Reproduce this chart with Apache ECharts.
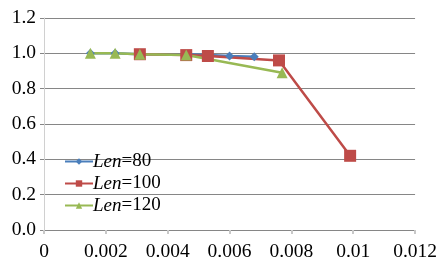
<!DOCTYPE html>
<html>
<head>
<meta charset="utf-8">
<script src="https://cdn.jsdelivr.net/npm/echarts@6/dist/echarts.min.js"></script>
<style>
html,body{margin:0;padding:0;background:#fff;}
#chart{width:440px;height:262px;}
</style>
</head>
<body>
<div id="chart"></div>
<script>
// 数据
const len80X = [0.0015, 0.0023, 0.0031, 0.0046, 0.0053, 0.0060, 0.0068];
const len80Y = [1.0, 1.0, 0.995, 0.995, 0.99, 0.985, 0.98];
const len100X = [0.0031, 0.0046, 0.0053, 0.0076, 0.0099];
const len100Y = [0.995, 0.99, 0.985, 0.96, 0.42];
const len120X = [0.0015, 0.0023, 0.0031, 0.0046, 0.0077];
const len120Y = [1.0, 1.0, 0.995, 0.99, 0.89];
const seriesNames = ['Len=80', 'Len=100', 'Len=120'];

const font = 'Liberation Serif';

function pairs(xs, ys) {
    return xs.map(function (x, i) { return [x, ys[i]]; });
}

const chart = echarts.init(document.getElementById('chart'));
const option = {
    animation: false,
    backgroundColor: '#fff',
    grid: {left: 44, right: 18, top: 18, bottom: 31},
    legend: {
        orient: 'vertical',
        left: 59,
        top: 147,
        itemGap: 3,
        itemWidth: 28,
        itemHeight: 8,
        data: seriesNames,
        formatter: function (name) {
            return '{i|Len}{n|' + name.slice(3) + '}';
        },
        textStyle: {
            fontFamily: font,
            fontSize: 19,
            color: '#000',
            padding: [0, 0, 0, -5],
            rich: {
                i: {fontStyle: 'italic', fontFamily: font, fontSize: 19, color: '#000'},
                n: {fontFamily: font, fontSize: 19, color: '#000'}
            }
        }
    },
    xAxis: {
        type: 'value',
        min: 0,
        max: 0.012,
        interval: 0.002,
        axisLine: {show: false},
        axisTick: {show: true, length: 4, lineStyle: {color: '#c8c8c8', width: 2}},
        splitLine: {show: false},
        axisLabel: {fontFamily: font, fontSize: 19.5, color: '#000', margin: 12}
    },
    yAxis: {
        type: 'value',
        min: 0,
        max: 1.2,
        interval: 0.2,
        axisLine: {show: true, lineStyle: {color: '#d0d0d0', width: 1}},
        axisTick: {show: true, length: 4, lineStyle: {color: '#868686'}},
        splitLine: {show: true, lineStyle: {color: '#868686', width: 1}},
        axisLabel: {
            fontFamily: font, fontSize: 19.5, color: '#000', margin: 8,
            formatter: function (v) { return v.toFixed(1); }
        }
    },
    series: [
        {
            name: seriesNames[0],
            type: 'line',
            data: pairs(len80X, len80Y),
            symbol: 'diamond',
            symbolSize: 9,
            color: '#4a7ebb',
            lineStyle: {width: 2.5}
        },
        {
            name: seriesNames[1],
            type: 'line',
            data: pairs(len100X, len100Y),
            symbol: 'rect',
            symbolSize: 12,
            color: '#be4b48',
            lineStyle: {width: 2.5}
        },
        {
            name: seriesNames[2],
            type: 'line',
            data: pairs(len120X, len120Y),
            symbol: 'triangle',
            symbolSize: 11,
            color: '#98b954',
            lineStyle: {width: 2.5}
        }
    ]
};
chart.setOption(option);
</script>
</body>
</html>
